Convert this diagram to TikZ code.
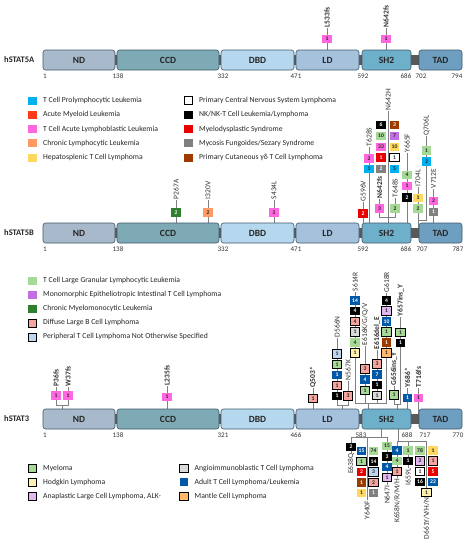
\documentclass[tikz,border=0pt]{standalone}
\usepackage{fontspec}
\setmainfont{Carlito}
\pgfdeclarelayer{bg}
\pgfdeclarelayer{conn}
\pgfsetlayers{bg,conn,main}
\definecolor{cND}{HTML}{A8B9CC}
\definecolor{cCCD}{HTML}{7DAAB5}
\definecolor{cDBD}{HTML}{B5D8EE}
\definecolor{cLD}{HTML}{A5C1DC}
\definecolor{cSH}{HTML}{6EB0CA}
\definecolor{cTAD}{HTML}{6F9FC0}
\definecolor{cLink}{HTML}{595959}
\definecolor{cEdge}{HTML}{41596B}
\definecolor{cStem}{HTML}{808080}
\definecolor{cTxt}{HTML}{262626}
\definecolor{cLab}{HTML}{333333}
\definecolor{cTPLL}{HTML}{00B0F0}
\definecolor{cAML}{HTML}{FF3B1A}
\definecolor{cTALL}{HTML}{FF66E0}
\definecolor{cCLL}{HTML}{FF9B62}
\definecolor{cHSTL}{HTML}{FFD860}
\definecolor{cMDS}{HTML}{E80000}
\definecolor{cMF}{HTML}{808080}
\definecolor{cPCGD}{HTML}{9C3A00}
\definecolor{cTLGL}{HTML}{A6D896}
\definecolor{cMEITL}{HTML}{C06EE0}
\definecolor{cCMML}{HTML}{2F7F2F}
\definecolor{cDLBCL}{HTML}{F6A4A0}
\definecolor{cPTCL}{HTML}{BDD7EE}
\definecolor{cHL}{HTML}{FFF0B0}
\definecolor{cALCL}{HTML}{E0B8EE}
\definecolor{cAITL}{HTML}{D9D9D9}
\definecolor{cATLL}{HTML}{0058A6}
\definecolor{cMCL}{HTML}{FFB86C}
\tikzset{
 lnk/.style={fill=cLink, minimum width=419pt, minimum height=10pt, inner sep=0pt},
 dom/.style={draw=cEdge, line width=0.6pt, rounded corners=2.5pt, minimum height=20pt, inner sep=0pt, font=\fontsize{9.5}{9.5}\selectfont\bfseries, text=cTxt},
 mb/.style={rectangle, minimum width=9.5pt, minimum height=8.5pt, inner sep=0pt, font=\fontsize{5.6}{5.6}\selectfont\bfseries, text=cTxt},
 bd/.style={draw=black, line width=0.6pt},
 wt/.style={text=white},
 tpll/.style={mb, fill=cTPLL},
 aml/.style={mb, fill=cAML, wt},
 tall/.style={mb, fill=cTALL},
 cll/.style={mb, fill=cCLL},
 hstl/.style={mb, fill=cHSTL},
 pcnsl/.style={mb, fill=white, bd},
 nk/.style={mb, fill=black, wt},
 mds/.style={mb, fill=cMDS, wt},
 mfs/.style={mb, fill=cMF, wt},
 pcgd/.style={mb, fill=cPCGD, wt},
 tlgl/.style={mb, fill=cTLGL},
 meitl/.style={mb, fill=cMEITL},
 cmml/.style={mb, fill=cCMML, wt},
 dlbcl/.style={mb, fill=cDLBCL, bd},
 ptcl/.style={mb, fill=cPTCL, bd},
 mye/.style={mb, fill=cTLGL, bd},
 hodg/.style={mb, fill=cHL, bd},
 alcl/.style={mb, fill=cALCL, bd},
 aitl/.style={mb, fill=cAITL, bd},
 atll/.style={mb, fill=cATLL, wt},
 mcl/.style={mb, fill=cMCL, bd},
 ml/.style={rotate=90, anchor=west, inner sep=0.6pt, text=cLab, font=\fontsize{7.5}{7.5}\selectfont},
 mlb/.style={ml, font=\fontsize{7.5}{7.5}\selectfont\bfseries},
 mld/.style={rotate=90, anchor=east, inner sep=0.6pt, text=cLab, font=\fontsize{7.5}{7.5}\selectfont},
 stem/.style={draw=cStem, line width=0.6pt},
 lgbox/.style={minimum width=8.5pt, minimum height=8pt},
 lgtext/.style={anchor=west, inner sep=0pt, text=cTxt, font=\fontsize{7.7}{7.7}\selectfont},
 num/.style={inner sep=0pt, text=cLab, font=\fontsize{7}{7}\selectfont},
 prot/.style={anchor=west, inner sep=0pt, text=cTxt, font=\fontsize{8.5}{8.5}\selectfont\bfseries}
}
\newcommand\protrow[2]{%
 \node[lnk] (#1lk) at (252.5,#2) {};
 \node[dom,fill=cND,minimum width=72pt] (#1ND) at (79,#2) {ND};
 \node[dom,fill=cCCD,minimum width=102pt] (#1CCD) at (168,#2) {CCD};
 \node[dom,fill=cDBD,minimum width=73pt] (#1DBD) at (257.5,#2) {DBD};
 \node[dom,fill=cLD,minimum width=63pt] (#1LD) at (327.5,#2) {LD};
 \node[dom,fill=cSH,minimum width=49pt] (#1SH) at (386.5,#2) {SH2};
 \node[dom,fill=cTAD,minimum width=43pt] (#1TAD) at (440.5,#2) {TAD};
}
\newcommand\bx[4]{\node[#1] (#2) at (#3) {#4};}
\newcommand\lgd[5]{\node[#1,lgbox] (#2) at (#3,#4) {}; \node[lgtext] (#2t) at (#3+10.5,#4) {#5};}
\begin{document}
\begin{tikzpicture}[x=1pt,y=-1pt]
\begin{pgfonlayer}{bg}
\fill[white] (0,0) rectangle (469,550);
\end{pgfonlayer}
\useasboundingbox (0,0) rectangle (469,550);

% ================= hSTAT5A =================
\node[prot] (pA) at (4,60) {hSTAT5A};
\protrow{a}{60}
\node[num] (an1) at (45,76) {1};
\node[num] (an2) at (118,76) {138};
\node[num] (an3) at (223,76) {332};
\node[num] (an4) at (296,76) {471};
\node[num] (an5) at (363,76) {592};
\node[num] (an6) at (406,76) {686};
\node[num] (an7) at (421,76) {702};
\node[num] (an8) at (457,76) {794};

\node[mlb] (mL533) at (327,28) {L533fs};
\bx{tall}{a1}{327,39}{1}
\coordinate (tL533) at (327,50);
\node[mlb] (mN642a) at (386,28) {N642fs};
\bx{tall}{a2}{386,39}{1}
\coordinate (tN642a) at (386,50);

% ================= legend 1 =================
\lgd{tpll}{la1}{32.5}{100.5}{T Cell Prolymphocytic Leukemia}
\lgd{aml}{la2}{32.5}{114.8}{Acute Myeloid Leukemia}
\lgd{tall}{la3}{32.5}{129.1}{T Cell Acute Lymphoblastic Leukemia}
\lgd{cll}{la4}{32.5}{143.4}{Chronic Lymphocytic Leukemia}
\lgd{hstl}{la5}{32.5}{157.7}{Hepatosplenic T Cell Lymphoma}
\lgd{pcnsl}{la6}{188.5}{100.5}{Primary Central Nervous System Lymphoma}
\lgd{nk}{la7}{188.5}{114.8}{NK/NK-T Cell Leukemia/Lymphoma}
\lgd{mds}{la8}{188.5}{129.1}{Myelodysplastic Syndrome}
\lgd{mfs}{la9}{188.5}{143.4}{Mycosis Fungoides/Sezary Syndrome}
\lgd{pcgd}{la10}{188.5}{157.7}{Primary Cutaneous γδ T Cell Lymphoma}

% ================= hSTAT5B =================
\node[prot] (pB) at (4,233) {hSTAT5B};
\protrow{b}{233}
\node[num] (bn1) at (45,249) {1};
\node[num] (bn2) at (118,249) {138};
\node[num] (bn3) at (223,249) {332};
\node[num] (bn4) at (296,249) {471};
\node[num] (bn5) at (363,249) {592};
\node[num] (bn6) at (406,249) {686};
\node[num] (bn7) at (422,249) {707};
\node[num] (bn8) at (458,249) {787};

\node[ml] (mP267) at (176,200) {P267A};
\bx{cmml}{b1}{176,212.5}{2}
\coordinate (tP267) at (176,223);
\node[ml] (mI320) at (208,200) {I320V};
\bx{cll}{b2}{208,212.5}{2}
\coordinate (tI320) at (208,223);
\node[ml] (mS434) at (274,200) {S434L};
\bx{tall}{b3}{274,212.5}{2}
\coordinate (tS434) at (274,223);
\node[ml] (mG596) at (363,202) {G596V};
\bx{mds}{b4}{363,213.5}{2}
\coordinate (tG596) at (363,223);
\node[ml] (mT628) at (369,147) {T628S};
\bx{tall}{b5}{369,158.5}{2}
\bx{tpll}{b6}{369,169}{1}
\coordinate (tT628) at (369,223);
\node[ml] (mN642H) at (388,111) {N642H};
\coordinate (tN642) at (388,223);
\bx{nk}{b7}{381,125}{6}
\bx{tlgl}{b8}{381,136}{10}
\bx{tall}{b9}{381,147}{33}
\bx{mds}{b10}{381,157.5}{1}
\bx{mfs}{b11}{381,169}{2}
\bx{pcgd}{b12}{394.5,125}{3}
\bx{meitl}{b13}{394.5,136}{7}
\bx{hstl}{b14}{394.5,147}{10}
\bx{pcnsl}{b15}{394.5,157.5}{1}
\bx{tpll}{b16}{394.5,169}{5}
\node[mlb] (mN642f) at (379.5,199) {N642fs};
\bx{tall}{b17}{379.5,208.5}{3}
\node[ml] (mT648) at (395,198) {T648S};
\bx{tlgl}{b18}{395,208.5}{2}
\coordinate (jN642) at (388,217);
\node[ml] (mY665) at (407,153) {Y665F};
\bx{tlgl}{b19}{407,175}{4}
\bx{tall}{b20}{407,186}{1}
\bx{nk}{b21}{407,197.5}{2}
\coordinate (tY665) at (407,223);
\node[ml] (mI704) at (418,187) {I704L};
\bx{hstl}{b22}{418,198}{1}
\bx{tlgl}{b23}{418,208.5}{2}
\coordinate (tI704) at (418,228);
\node[ml] (mQ706) at (426.5,136) {Q706L};
\bx{tlgl}{b24}{426.5,150.5}{1}
\bx{tpll}{b25}{426.5,161.5}{2}
\coordinate (jQ706) at (418,220);
\node[ml] (mV712) at (433.5,189) {V712E};
\bx{tall}{b26}{433.5,201}{2}
\bx{mfs}{b27}{433.5,212}{1}
\coordinate (tV712) at (433.5,223);

% ================= legend 2 =================
\lgd{tlgl}{lb1}{32.5}{280.5}{T Cell Large Granular Lymphocytic Leukemia}
\lgd{meitl}{lb2}{32.5}{294.6}{Monomorphic Epitheliotropic Intestinal T Cell Lymphoma}
\lgd{cmml}{lb3}{32.5}{308.7}{Chronic Myelomonocytic Leukemia}
\lgd{dlbcl}{lb4}{32.5}{322.8}{Diffuse Large B Cell Lymphoma}
\lgd{ptcl}{lb5}{32.5}{336.9}{Peripheral T Cell Lymphoma Not Otherwise Specified}

% ================= hSTAT3 =================
\node[prot] (pC) at (4,419) {hSTAT3};
\protrow{c}{419}
\node[num] (cn1) at (45,435) {1};
\node[num] (cn2) at (118,435) {138};
\node[num] (cn3) at (223,435) {321};
\node[num] (cn4) at (296,435) {466};
\node[num] (cn5) at (361,435) {583};
\node[num] (cn6) at (407,435) {688};
\node[num] (cn7) at (425,435) {717};
\node[num] (cn8) at (458,435) {770};

% above
\node[mlb] (mP36) at (56,387) {P36fs};
\bx{tall}{c1}{56,395.5}{1}
\node[mlb] (mW37) at (68,387) {W37fs};
\bx{tall}{c2}{68,395.5}{1}
\coordinate (jP36) at (62,405);
\coordinate (tP36) at (62,409);
\node[mlb] (mL235) at (167,386) {L235fs};
\bx{tall}{c3}{167,397}{1}
\coordinate (tL235) at (167,409);
\node[mlb] (mQ503) at (313,388) {Q503*};
\bx{dlbcl}{c4}{313,398.5}{1}
\coordinate (tQ503) at (313,409);
\node[ml] (mD566) at (337,338) {D566N};
\bx{ptcl}{c5}{337,354}{1}
\bx{mye}{c6}{337,364.5}{1}
\bx{atll}{c7}{337,375}{1}
\bx{dlbcl}{c8}{337,385.5}{1}
\bx{nk}{c9}{337,396}{1}
\node[ml] (mN567) at (348,381) {N567K};
\bx{dlbcl}{c10}{348,396}{3}
\coordinate (jD566) at (342,405);
\coordinate (tD566) at (342,409);
\node[ml] (mS614) at (355,292) {S614R};
\bx{atll}{c11}{355,300.5}{14}
\bx{nk}{c12}{355,311}{4}
\bx{dlbcl}{c13}{355,321.5}{4}
\bx{aitl}{c14}{355,332}{1}
\bx{tlgl}{c15}{355,342.5}{4}
\bx{hodg}{c16}{355,353}{1}
\node[ml] (mE616) at (365,346) {E616K/G/Q/V};
\bx{dlbcl}{c17}{365,369}{3}
\bx{atll}{c18}{365,379.5}{4}
\bx{mye}{c19}{365,390.5}{1}
\node[mlb] (mE616d) at (377,350) {E616del\_E};
\bx{dlbcl}{c20}{377,364}{3}
\bx{atll}{c21}{377,374.5}{7}
\bx{nk}{c22}{377,385}{1}
\bx{aitl}{c23}{377,395.5}{1}
\node[ml] (mG618) at (386.5,293) {G618R};
\bx{nk}{c24}{386.5,300.5}{4}
\bx{alcl}{c25}{386.5,311}{1}
\bx{atll}{c26}{386.5,321.5}{10}
\bx{mye}{c27}{386.5,332}{1}
\bx{pcgd}{c28}{386.5,342.5}{1}
\bx{mcl}{c29}{386.5,353}{1}
\coordinate (jS614) at (368,403);
\coordinate (tS614) at (368,409);
\node[mlb] (mY657) at (400.5,317) {Y657ins\_Y};
\bx{mye}{c30}{400.5,332.5}{1}
\bx{nk}{c31}{400.5,343}{1}
\node[mlb] (mG656) at (394,386) {G656ins\_Y};
\bx{mye}{c32}{394,395}{1}
\coordinate (jY657) at (397,404);
\coordinate (tY657) at (397,409);
\node[mlb] (mY686) at (407.5,388) {Y686*};
\bx{atll}{c33}{407.5,398}{1}
\coordinate (tY686) at (407.5,409);
\node[mlb] (mT716) at (418.5,388) {T716fs};
\bx{tall}{c34}{418.5,398}{1}
\coordinate (tT716) at (418.5,414);

% below
\coordinate (tB1) at (381,429);
\coordinate (jB1) at (381,437);
\node[mld] (mE638) at (351,453) {E638Q};
\bx{nk}{d1}{351,447}{2}
\node[mld] (mY640) at (367,500) {Y640F};
\bx{atll}{d2}{361.5,451}{15}
\bx{mye}{d3}{361.5,461.5}{1}
\bx{mds}{d4}{361.5,472}{2}
\bx{pcgd}{d5}{361.5,482.5}{1}
\bx{hstl}{d6}{361.5,493}{1}
\bx{tlgl}{d7}{373.5,451}{74}
\bx{nk}{d8}{373.5,461.5}{14}
\bx{ptcl}{d9}{373.5,472}{3}
\bx{dlbcl}{d10}{373.5,482.5}{2}
\bx{mfs}{d11}{373.5,493}{1}
\node[mld] (mN647) at (387,485) {N647I};
\bx{tlgl}{d12}{387,446}{15}
\bx{nk}{d13}{387,456.5}{3}
\bx{atll}{d14}{387,467}{4}
\bx{alcl}{d15}{387,477.5}{1}
\coordinate (tB2) at (398,429);
\coordinate (jB2) at (398,441);
\node[mld] (mK658) at (397,478) {K658N/R/M/H};
\bx{atll}{d16}{397,450.5}{4}
\bx{tlgl}{d17}{397,461}{4}
\bx{dlbcl}{d18}{397,471.5}{1}
\node[mld] (mI659) at (408,468) {I659L};
\bx{tlgl}{d19}{408,450.5}{1}
\bx{nk}{d20}{408,461}{1}
\node[mld] (mD661) at (426.5,497) {D661Y/V/H/N};
\bx{tlgl}{d21}{420,450.5}{78}
\bx{alcl}{d22}{420,461}{2}
\bx{pcnsl}{d23}{420,471.5}{1}
\bx{nk}{d24}{420,482}{16}
\bx{hstl}{d25}{433,450.5}{1}
\bx{dlbcl}{d26}{433,461}{1}
\bx{mds}{d27}{433,471.5}{5}
\bx{atll}{d28}{433,482}{22}
\bx{hodg}{d29}{426.5,492.5}{1}

% ================= legend 3 =================
\lgd{mye}{lc1}{32.5}{468}{Myeloma}
\lgd{hodg}{lc2}{32.5}{482.3}{Hodgkin Lymphoma}
\lgd{alcl}{lc3}{32.5}{496.6}{Anaplastic Large Cell Lymphoma, ALK-}
\lgd{aitl}{lc4}{184}{468}{Angioimmunoblastic T Cell Lymphoma}
\lgd{atll}{lc5}{184}{482.3}{Adult T Cell Lymphoma/Leukemia}
\lgd{mcl}{lc6}{184}{496.6}{Mantle Cell Lymphoma}

% ================= connectors =================
\begin{pgfonlayer}{conn}
\draw[stem] (mL533.west) -- (tL533);
\draw[stem] (mN642a.west) -- (tN642a);
\draw[stem] (mP267.west) -- (tP267);
\draw[stem] (mI320.west) -- (tI320);
\draw[stem] (mS434.west) -- (tS434);
\draw[stem] (mG596.west) -- (tG596);
\draw[stem] (mT628.west) -- (tT628);
\draw[stem] (mN642H.west) -- (tN642);
\draw[stem] (mN642f.west) |- (jN642);
\draw[stem] (mT648.west) |- (jN642);
\draw[stem] (mY665.west) -- (tY665);
\draw[stem] (mI704.west) -- (tI704);
\draw[stem] (mQ706.west) |- (jQ706);
\draw[stem] (mV712.west) -- (tV712);
\draw[stem] (mP36.west) |- (jP36);
\draw[stem] (mW37.west) |- (jP36);
\draw[stem] (jP36) -- (tP36);
\draw[stem] (mL235.west) -- (tL235);
\draw[stem] (mQ503.west) -- (tQ503);
\draw[stem] (mD566.west) |- (jD566);
\draw[stem] (mN567.west) |- (jD566);
\draw[stem] (jD566) -- (tD566);
\draw[stem] (mS614.west) |- (jS614);
\draw[stem] (mE616.west) |- (jS614);
\draw[stem] (mE616d.west) |- (jS614);
\draw[stem] (mG618.west) |- (jS614);
\draw[stem] (jS614) -- (tS614);
\draw[stem] (mY657.west) |- (jY657);
\draw[stem] (mG656.west) |- (jY657);
\draw[stem] (jY657) -- (tY657);
\draw[stem] (mY686.west) -- (tY686);
\draw[stem] (mT716.west) -- (tT716);
\draw[stem] (tB1) -- (jB1);
\draw[stem] (mE638.east) |- (jB1);
\draw[stem] (mY640.east) |- (jB1);
\draw[stem] (mN647.east) |- (jB1);
\draw[stem] (tB2) -- (jB2);
\draw[stem] (mK658.east) |- (jB2);
\draw[stem] (mI659.east) |- (jB2);
\draw[stem] (mD661.east) |- (jB2);
\end{pgfonlayer}
\end{tikzpicture}
\end{document}
